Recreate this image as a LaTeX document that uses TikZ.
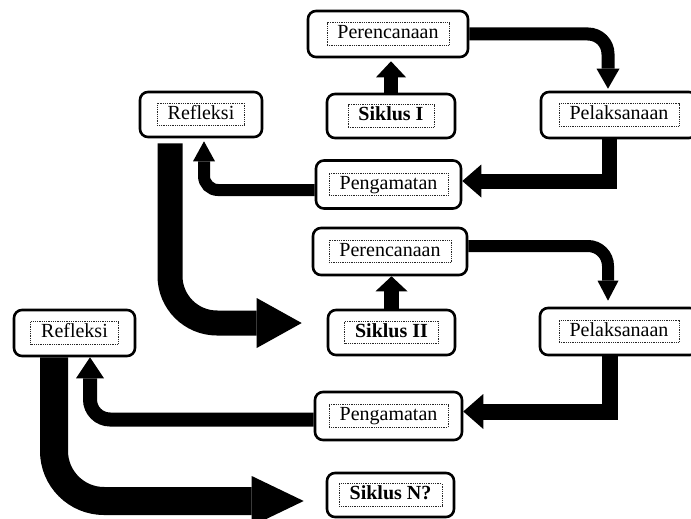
\documentclass[tikz,border=0pt]{standalone}
\usepackage{fontspec}
\setmainfont{Liberation Serif}
\usetikzlibrary{arrows.meta}
\begin{document}
\begin{tikzpicture}[x=1pt,y=-1pt,
  box/.style={draw, line width=2.6pt, rounded corners=8pt, fill=white, inner sep=0pt},
  lbl/.style={draw=black!85, line width=0.7pt, dash pattern=on 0.9pt off 0.9pt,
    inner xsep=10.5pt, inner ysep=2pt, text height=14pt, text depth=4.5pt,
    font=\fontsize{20}{22}\selectfont},
  blbl/.style={lbl, font=\fontsize{20}{22}\selectfont\bfseries},
  conn/.style={line cap=butt, line join=miter}
]
\useasboundingbox (0,0) rectangle (691,519);

% boxes
\node[box, minimum width=160pt, minimum height=46pt] (p1) at (388,34) {};
\node[lbl] (p1t) at (p1) {Perencanaan};
\node[box, minimum width=128pt, minimum height=44pt] (s1) at (391,116) {};
\node[blbl] (s1t) at (s1) {Siklus I};
\node[box, minimum width=122pt, minimum height=45pt] (r1) at (201,114.5) {};
\node[lbl] (r1t) at (r1) {Refleksi};
\node[box, minimum width=156pt, minimum height=46pt] (l1) at (619,115) {};
\node[lbl] (l1t) at (l1) {Pelaksanaan};
\node[box, minimum width=145pt, minimum height=48pt] (g1) at (388.5,184.5) {};
\node[lbl] (g1t) at (g1) {Pengamatan};

\node[box, minimum width=154pt, minimum height=47pt] (p2) at (390,251.5) {};
\node[lbl] (p2t) at (p2) {Perencanaan};
\node[box, minimum width=127pt, minimum height=45pt] (s2) at (391.5,332.5) {};
\node[blbl] (s2t) at (s2) {Siklus II};
\node[box, minimum width=158pt, minimum height=47pt] (l2) at (619,331.5) {};
\node[lbl] (l2t) at (l2) {Pelaksanaan};
\node[box, minimum width=121pt, minimum height=46pt] (r2) at (74.5,333) {};
\node[lbl] (r2t) at (r2) {Refleksi};
\node[box, minimum width=147pt, minimum height=48pt] (g2) at (388.5,416) {};
\node[lbl] (g2t) at (g2) {Pengamatan};
\node[box, minimum width=127pt, minimum height=44pt] (sn) at (390.5,495) {};
\node[blbl] (snt) at (sn) {Siklus N?};

% connectors, cycle I
\draw[conn, line width=14pt, -{Triangle[width=30pt,length=16pt,line width=0pt]}, shorten >=3pt]
  (s1.north) -- (s1.north |- p1.south);
\draw[conn, line width=13pt, rounded corners=20pt, -{Triangle[width=23pt,length=20pt,line width=0pt]}, shorten >=2pt]
  (p1.east) -| ([xshift=-11pt]l1.north);
\draw[conn, line width=15pt, -{Triangle[width=33pt,length=19pt,line width=0pt]}]
  ([xshift=-10pt]l1.south) |- ([yshift=3.5pt]g1.east);
\draw[conn, line width=12pt, rounded corners=14pt, -{Triangle[width=22pt,length=20pt,line width=0pt]}, shorten >=3pt]
  ([yshift=-5.5pt]g1.west) -| ([xshift=3pt]r1.south);
\draw[conn, line width=25pt, rounded corners=47pt, -{Triangle[width=50pt,length=45pt,line width=0pt]}, shorten <=5pt, shorten >=25pt]
  ([xshift=-31pt]r1.south) |- ([yshift=9.5pt]s2.west);

% connectors, cycle II
\draw[conn, line width=15pt, -{Triangle[width=32pt,length=15pt,line width=0pt]}]
  (s2.north) -- (s2.north |- p2.south);
\draw[conn, line width=12pt, rounded corners=20pt, -{Triangle[width=21pt,length=20pt,line width=0pt]}, shorten >=6pt]
  ([yshift=5.5pt]p2.east) -| ([xshift=-11pt]l2.north);
\draw[conn, line width=16pt, -{Triangle[width=35pt,length=20pt,line width=0pt]}]
  ([xshift=-9.5pt]l2.south) |- ([yshift=4.5pt]g2.east);
\draw[conn, line width=14pt, rounded corners=20pt, -{Triangle[width=28pt,length=21pt,line width=0pt]}]
  ([yshift=-3.5pt]g2.west) -| ([xshift=15.5pt]r2.south);
\draw[conn, line width=28pt, rounded corners=50pt, -{Triangle[width=50pt,length=52pt,line width=0pt]}, shorten >=22pt]
  ([xshift=-20.5pt]r2.south) |- ([yshift=-6pt]sn.west);
\end{tikzpicture}
\end{document}
